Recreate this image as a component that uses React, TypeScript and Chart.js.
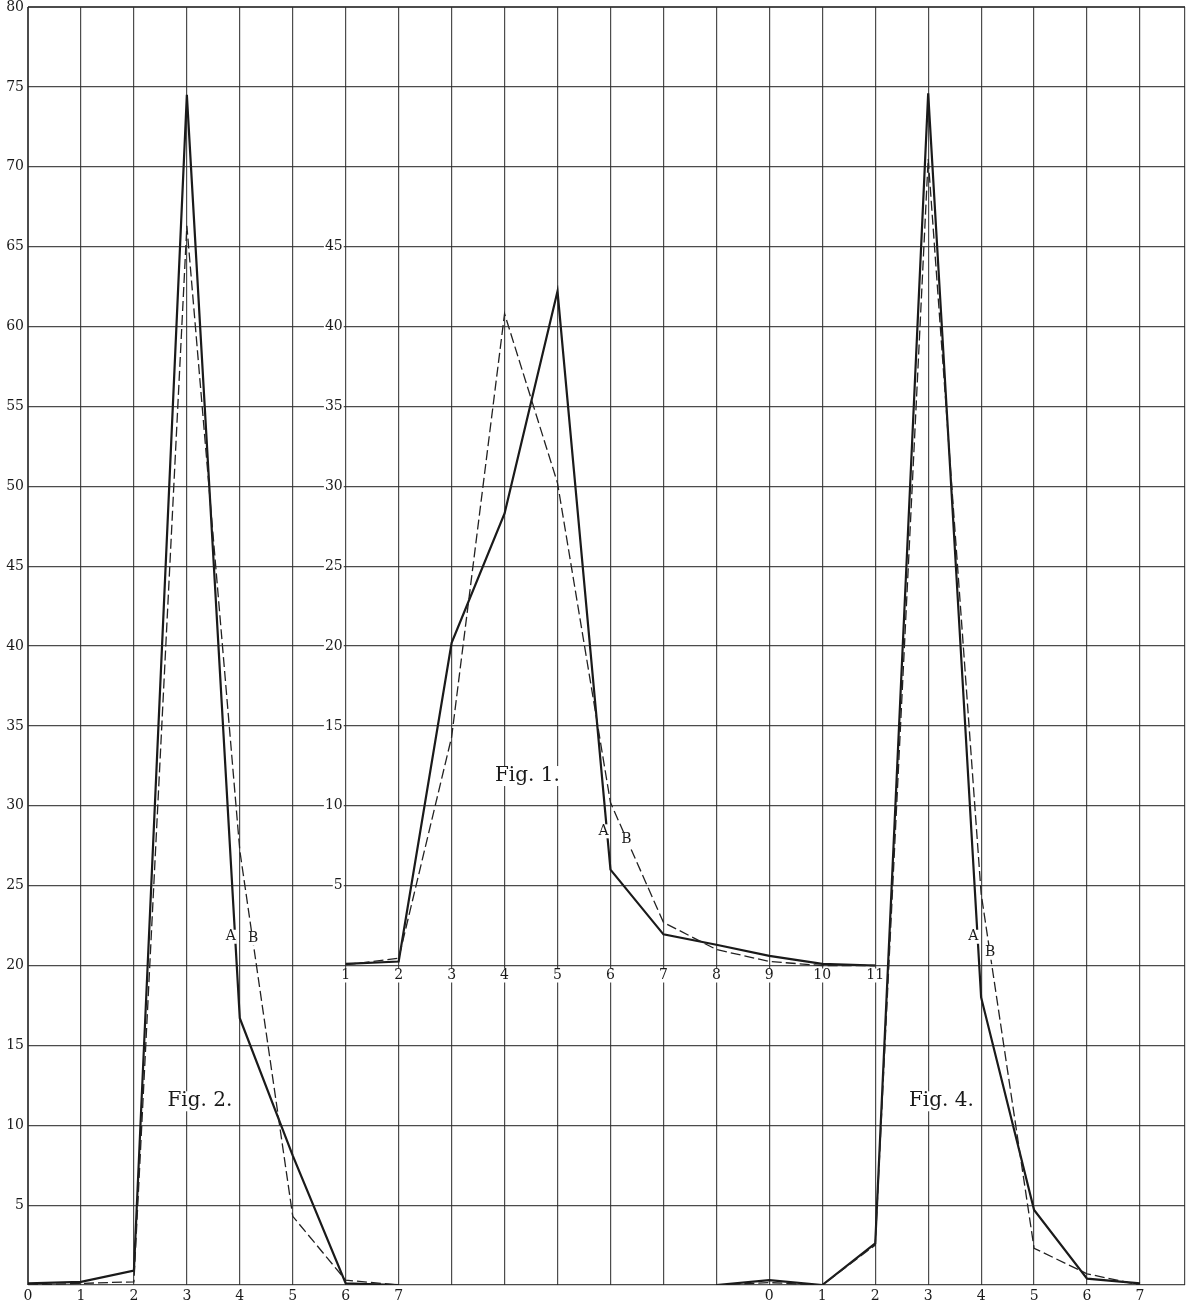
import React, { useEffect, useRef } from 'react';
import { Chart, registerables } from 'chart.js';

Chart.register(...registerables);

// ---- Data ----
// Fig. 2 (left curves), x categories 0..7
const fig2X = [0, 1, 2, 3, 4, 5, 6, 7];
const fig2A = [0.1, 0.2, 0.9, 74.5, 16.7, 8.1, 0.1, 0];
const fig2B = [0, 0.1, 0.2, 66.3, 27.2, 4.3, 0.3, 0];

// Fig. 1 (middle curves, own scale), x categories 1..11
const fig1X = [1, 2, 3, 4, 5, 6, 7, 8, 9, 10, 11];
const fig1A = [0.1, 0.25, 20.2, 28.3, 42.2, 6.0, 1.95, 1.3, 0.6, 0.1, 0];
const fig1B = [0.05, 0.45, 14.3, 40.8, 30.2, 10.2, 2.7, 1.0, 0.25, 0, 0];

// Fig. 4 (right curves), x categories -1..7
const fig4X = [-1, 0, 1, 2, 3, 4, 5, 6, 7];
const fig4A = [0, 0.3, 0, 2.6, 74.6, 18.0, 4.7, 0.4, 0.1];
const fig4B = [0, 0.15, 0, 2.5, 70.5, 24.5, 2.3, 0.7, 0];

// Tick labels
const mainYTicks = [5, 10, 15, 20, 25, 30, 35, 40, 45, 50, 55, 60, 65, 70, 75, 80];
const fig2XTickLabels = ['0', '1', '2', '3', '4', '5', '6', '7'];
const fig4XTickLabels = ['0', '1', '2', '3', '4', '5', '6', '7'];
const fig1XTickLabels = ['1', '2', '3', '4', '5', '6', '7', '8', '9', '10', '11'];
const fig1YTickValues = [5, 10, 15, 20, 25, 30, 35, 40, 45];
const gridColumns = [0, 1, 2, 3, 4, 5, 6, 7, 8, 9, 10, 11, 12, 13, 14, 15, 16, 17, 18, 19, 20, 21, 21.85];

// Where each figure sits on the shared grid
const FIG2_X_OFFSET = 0;
const FIG4_X_OFFSET = 14;
const FIG1_X_OFFSET = 5;
const FIG1_Y_OFFSET = 20;

// Text annotations (in data units of the shared grid)
const figTitles = [
  { text: 'Fig. 2.', x: 3.245, y: 11.5 },
  { text: 'Fig. 1.', x: 9.43, y: 31.86 },
  { text: 'Fig. 4.', x: 17.25, y: 11.5 },
];
const curveLetters = [
  { text: 'A', x: 3.83, y: 21.8 },
  { text: 'B', x: 4.25, y: 21.7 },
  { text: 'A', x: 10.87, y: 28.4 },
  { text: 'B', x: 11.3, y: 27.9 },
  { text: 'A', x: 17.85, y: 21.8 },
  { text: 'B', x: 18.17, y: 20.8 },
];

const FONT = '"DejaVu Serif", "Liberation Serif", serif';
const INK = '#1a1a1a';
const GRID = 'rgba(45,45,45,0.85)';

function pts(xs: number[], ys: number[], dx: number, dy: number) {
  return xs.map((x, i) => ({ x: x + dx, y: ys[i] + dy }));
}

function labelWithBg(ctx: CanvasRenderingContext2D, text: string, x: number, y: number, size: number, align: CanvasTextAlign, baseline: CanvasTextBaseline) {
  ctx.font = `${size}px ${FONT}`;
  ctx.textAlign = align;
  ctx.textBaseline = baseline;
  const w = ctx.measureText(text).width;
  let left = x;
  if (align === 'center') left = x - w / 2;
  else if (align === 'right') left = x - w;
  let top = y;
  if (baseline === 'middle') top = y - size / 2;
  ctx.fillStyle = '#ffffff';
  ctx.fillRect(left - 1, top, w + 2, size);
  ctx.fillStyle = INK;
  ctx.fillText(text, x, y);
}

const overlayPlugin = {
  id: 'overlayText',
  afterDatasetsDraw(chart: any) {
    const ctx: CanvasRenderingContext2D = chart.ctx;
    const xs = chart.scales.x;
    const ys = chart.scales.y;
    ctx.save();
    // Fig. 1 own x tick labels along its base line
    fig1XTickLabels.forEach((lab, i) => {
      const px = xs.getPixelForValue(fig1X[i] + FIG1_X_OFFSET);
      const py = ys.getPixelForValue(FIG1_Y_OFFSET) + 3;
      labelWithBg(ctx, lab, px, py, 14, 'center', 'top');
    });
    // Fig. 1 own y tick labels
    fig1YTickValues.forEach((v) => {
      const px = xs.getPixelForValue(fig1X[0] + FIG1_X_OFFSET) - 3;
      const py = ys.getPixelForValue(v + FIG1_Y_OFFSET);
      labelWithBg(ctx, String(v), px, py, 14, 'right', 'middle');
    });
    figTitles.forEach((t) => {
      labelWithBg(ctx, t.text, xs.getPixelForValue(t.x), ys.getPixelForValue(t.y), 20, 'center', 'middle');
    });
    curveLetters.forEach((t) => {
      labelWithBg(ctx, t.text, xs.getPixelForValue(t.x), ys.getPixelForValue(t.y), 14, 'center', 'middle');
    });
    ctx.restore();
  },
};

export default function App() {
  const ref = useRef<HTMLCanvasElement | null>(null);
  useEffect(() => {
    if (!ref.current) return;
    const solid = { borderColor: INK, borderWidth: 2.2, pointRadius: 0, tension: 0, fill: false };
    const dashed = { borderColor: '#222', borderWidth: 1.3, borderDash: [10, 4], pointRadius: 0, tension: 0, fill: false };
    const chart = new Chart(ref.current, {
      type: 'line',
      data: {
        datasets: [
          { label: 'Fig. 2 B', data: pts(fig2X, fig2B, FIG2_X_OFFSET, 0), ...dashed },
          { label: 'Fig. 2 A', data: pts(fig2X, fig2A, FIG2_X_OFFSET, 0), ...solid },
          { label: 'Fig. 1 B', data: pts(fig1X, fig1B, FIG1_X_OFFSET, FIG1_Y_OFFSET), ...dashed },
          { label: 'Fig. 1 A', data: pts(fig1X, fig1A, FIG1_X_OFFSET, FIG1_Y_OFFSET), ...solid },
          { label: 'Fig. 4 B', data: pts(fig4X, fig4B, FIG4_X_OFFSET, 0), ...dashed },
          { label: 'Fig. 4 A', data: pts(fig4X, fig4A, FIG4_X_OFFSET, 0), ...solid },
        ] as any,
      },
      options: {
        animation: false,
        responsive: false,
        layout: { padding: { top: 7, right: 2, left: 0, bottom: 0 } },
        plugins: { legend: { display: false }, tooltip: { enabled: false } },
        scales: {
          x: {
            type: 'linear',
            min: 0,
            max: gridColumns[gridColumns.length - 1],
            afterBuildTicks: (s: any) => {
              s.ticks = gridColumns.map((v) => ({ value: v }));
            },
            afterFit: (s: any) => {
              s.height = 25;
              s.paddingLeft = 0;
              s.paddingRight = 0;
            },
            border: { display: false },
            grid: {
              color: GRID,
              lineWidth: (c: any) => (c.tick && c.tick.value === 0 ? 2 : 1.2),
              drawTicks: false,
            },
            ticks: {
              autoSkip: false,
              maxRotation: 0,
              padding: 3,
              color: INK,
              font: { family: FONT, size: 14 },
              callback: (v: any) => {
                const n = Number(v);
                if (n >= 0 && n <= 7 && Number.isInteger(n)) return fig2XTickLabels[n - FIG2_X_OFFSET];
                if (n >= FIG4_X_OFFSET && n <= FIG4_X_OFFSET + 7 && Number.isInteger(n)) return fig4XTickLabels[n - FIG4_X_OFFSET];
                return '';
              },
            },
          },
          y: {
            type: 'linear',
            min: 0,
            max: 80,
            afterBuildTicks: (s: any) => {
              s.ticks = [0, ...mainYTicks].map((v) => ({ value: v }));
            },
            afterFit: (s: any) => {
              s.width = 28;
              s.paddingTop = 0;
              s.paddingBottom = 0;
            },
            border: { display: false },
            grid: {
              color: GRID,
              lineWidth: (c: any) => (c.tick && c.tick.value === 80 ? 2 : 1.2),
              drawTicks: false,
            },
            ticks: {
              autoSkip: false,
              padding: 4,
              color: INK,
              font: { family: FONT, size: 14 },
              callback: (v: any) => (Number(v) === 0 ? '' : String(v)),
            },
          },
        },
      } as any,
      plugins: [overlayPlugin],
    });
    return () => chart.destroy();
  }, []);
  return (
    <div style={{ position: 'absolute', left: 0, top: 0, width: 1187, height: 1310, background: '#fff' }}>
      <canvas ref={ref} width={1187} height={1310} style={{ display: 'block', width: 1187, height: 1310 }} />
    </div>
  );
}
